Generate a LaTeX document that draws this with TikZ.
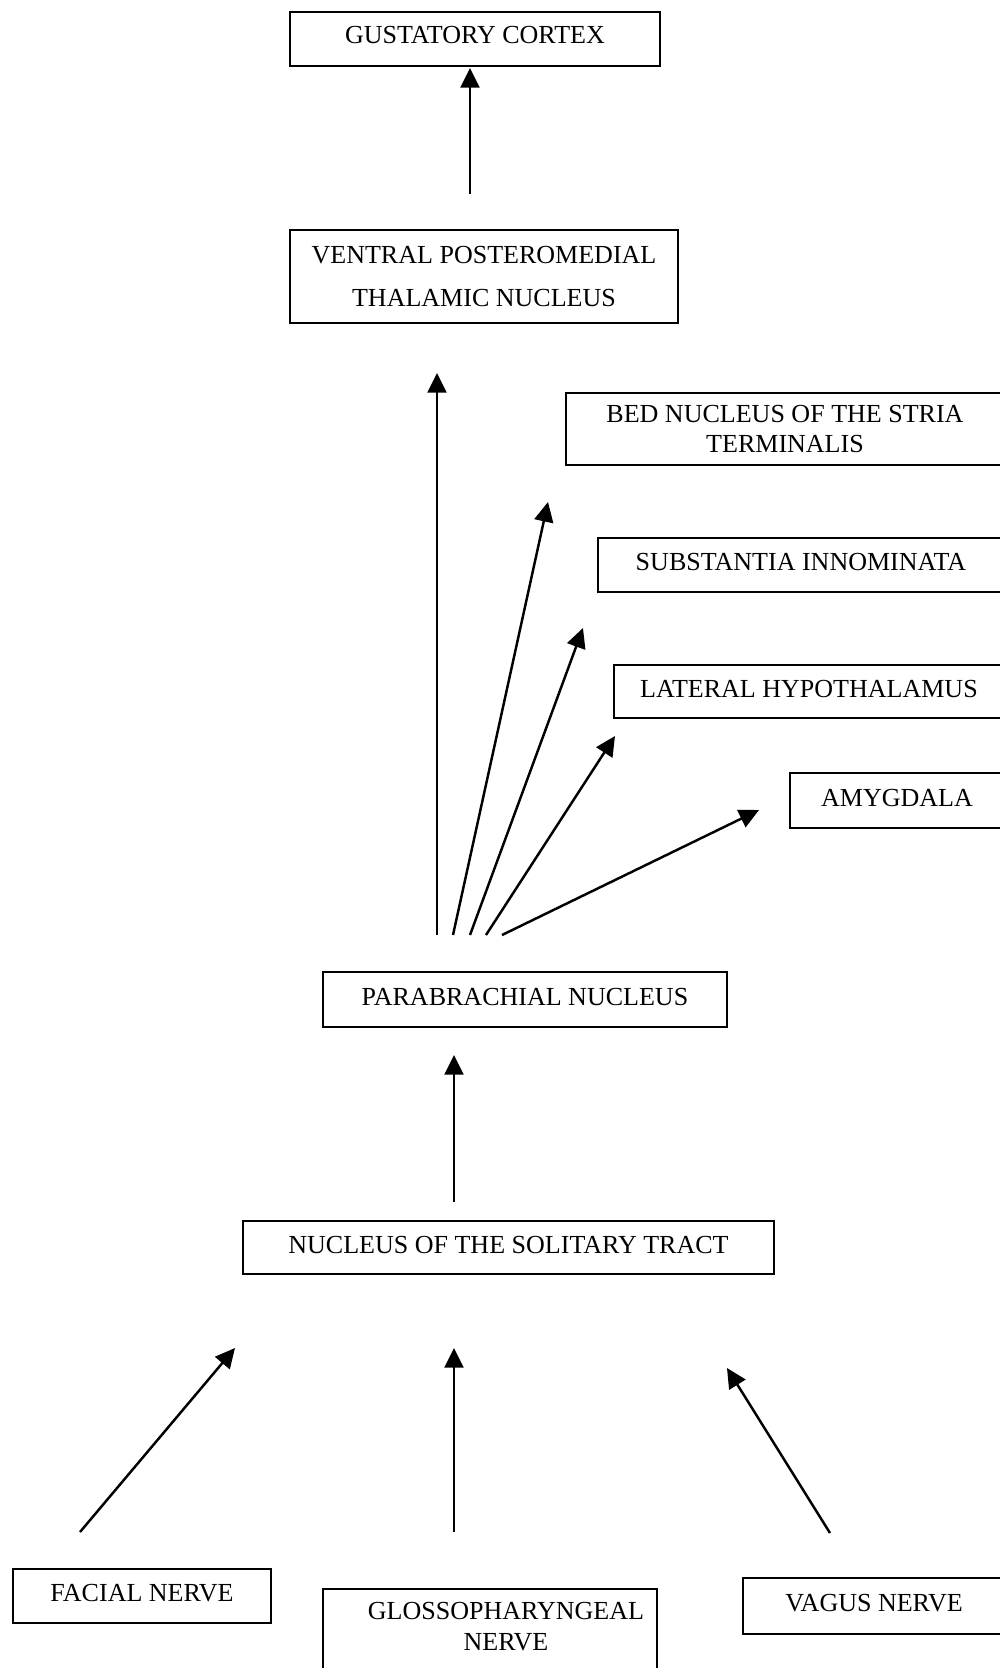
\documentclass[tikz,border=0pt]{standalone}
\usepackage{fontspec}
\setmainfont{Liberation Serif}
\usetikzlibrary{arrows.meta}
\begin{document}
\begin{tikzpicture}[x=0.01cm,y=-0.01cm,
  box/.style={draw, line width=0.6pt, inner sep=0pt, align=center,
    font=\fontsize{7.4}{8.3}\selectfont},
  onebox/.style={box, text depth=1.6pt},
  txt/.style={inner sep=0pt, align=center, font=\fontsize{7.4}{8.8}\selectfont},
  arr/.style={line width=0.7pt, -{Triangle[length=5.6pt,width=5.4pt]}}]
\useasboundingbox (0,0) rectangle (1000,1668);
\fill[white] (0,0) rectangle (1000,1668);

% boxes
\node[onebox, minimum width=3.7cm, minimum height=0.54cm, text depth=2.4pt] (gc) at (475,39) {GUSTATORY CORTEX};
\node[box, minimum width=3.88cm, minimum height=0.93cm, font=\fontsize{7.4}{12.2}\selectfont] (vpm) at (484,276.5) {VENTRAL POSTEROMEDIAL\\THALAMIC NUCLEUS};
\node[box, minimum width=4.38cm, minimum height=0.72cm] (bnst) at (785,429) {BED NUCLEUS OF THE STRIA\\TERMINALIS};
\node[onebox, minimum width=4.06cm, minimum height=0.54cm] (si) at (801,565) {SUBSTANTIA INNOMINATA};
\node[onebox, minimum width=3.90cm, minimum height=0.53cm] (lh) at (809,691.5) {LATERAL HYPOTHALAMUS};
\node[onebox, minimum width=2.13cm, minimum height=0.55cm] (amy) at (897,800.5) {AMYGDALA};
\node[onebox, minimum width=4.04cm, minimum height=0.55cm] (pb) at (525,999.5) {PARABRACHIAL NUCLEUS};
\node[onebox, minimum width=5.31cm, minimum height=0.53cm] (nts) at (508.5,1247.5) {NUCLEUS OF THE SOLITARY TRACT};
\node[onebox, minimum width=2.58cm, minimum height=0.54cm] (fac) at (142,1596) {FACIAL NERVE};
\node[box, minimum width=3.34cm, minimum height=1.2cm, anchor=north] (glo) at (490,1588) {};
\node[txt] (glot) at (506,1627) {GLOSSOPHARYNGEAL\\NERVE};
\node[onebox, minimum width=2.62cm, minimum height=0.56cm] (vag) at (874,1606) {VAGUS NERVE};

% arrow end points
\coordinate (a1s) at (470,194);  \coordinate (a1e) at (470,68);
\coordinate (a2s) at (437,935);  \coordinate (a2e) at (437,373);
\coordinate (a3s) at (453,935);  \coordinate (a3e) at (548,502);
\coordinate (a4s) at (470,935);  \coordinate (a4e) at (583,628);
\coordinate (a5s) at (486,935);  \coordinate (a5e) at (615,736);
\coordinate (a6s) at (502,935);  \coordinate (a6e) at (759,810);
\coordinate (a7s) at (454,1202); \coordinate (a7e) at (454,1055);
\coordinate (a8s) at (80,1532);  \coordinate (a8e) at (235,1348);
\coordinate (a9s) at (454,1532); \coordinate (a9e) at (454,1348);
\coordinate (a10s) at (830,1533); \coordinate (a10e) at (727,1368);

\draw[arr] (a1s) -- (a1e);
\draw[arr] (a2s) -- (a2e);
\draw[arr] (a3s) -- (a3e);
\draw[arr] (a4s) -- (a4e);
\draw[arr] (a5s) -- (a5e);
\draw[arr] (a6s) -- (a6e);
\draw[arr] (a7s) -- (a7e);
\draw[arr] (a8s) -- (a8e);
\draw[arr] (a9s) -- (a9e);
\draw[arr] (a10s) -- (a10e);
\end{tikzpicture}
\end{document}
